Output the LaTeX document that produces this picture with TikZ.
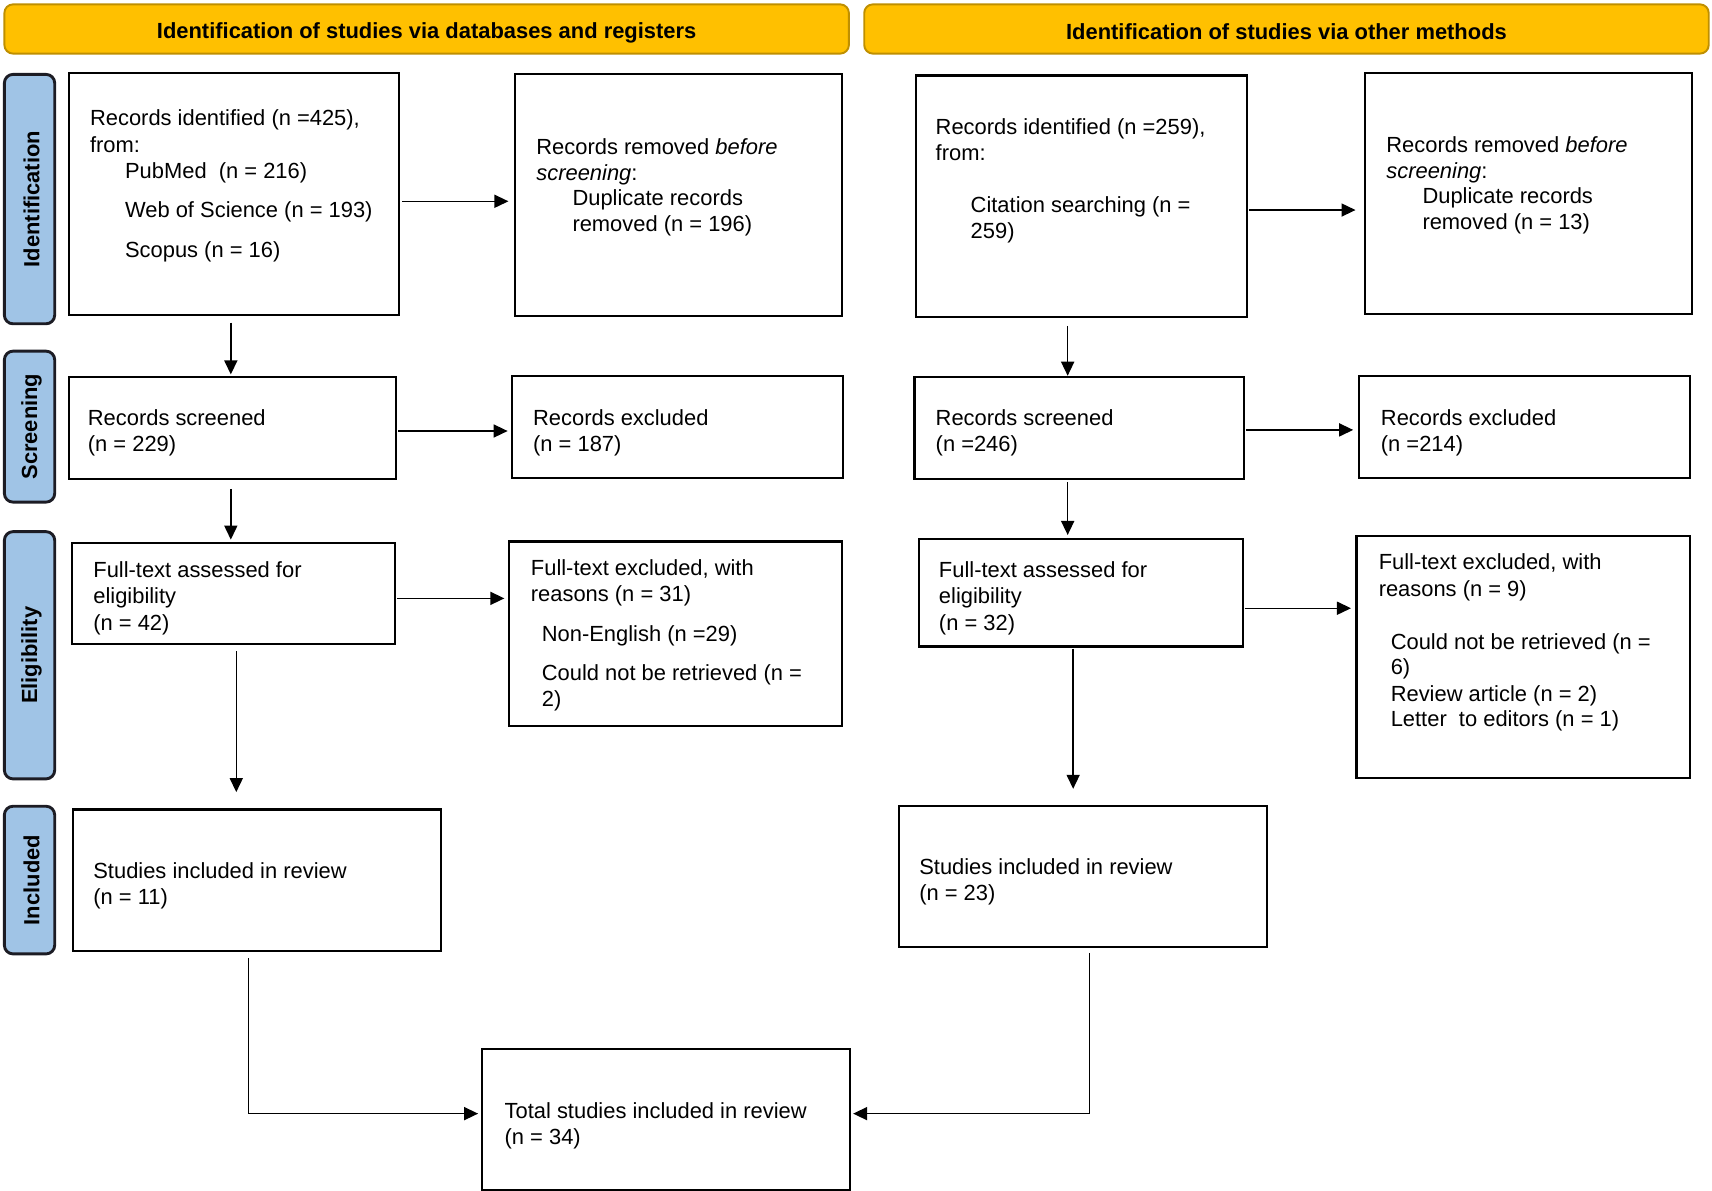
\documentclass[tikz,border=0pt]{standalone}
\usepackage{fontspec}
\setmainfont{Liberation Sans}
\usetikzlibrary{arrows.meta,fit}
\definecolor{hdrfill}{HTML}{FFC000}
\definecolor{hdrline}{HTML}{BF8F00}
\definecolor{sidefill}{HTML}{A0C4E6}
\definecolor{sideline}{HTML}{1C1C24}
\tikzset{
  box/.style={draw=black, line width=1.1pt, inner sep=0pt, fill=white},
  hdr/.style={draw=hdrline, fill=hdrfill, line width=1pt, rounded corners=4.5pt, inner sep=0pt},
  side/.style={draw=sideline, fill=sidefill, line width=1.5pt, rounded corners=4.5pt, inner sep=0pt},
  txt/.style={anchor=base west, inner sep=0pt, font=\fontsize{11.4}{13.6}\selectfont},
  hdrtxt/.style={inner sep=0pt, font=\fontsize{11.4}{13.6}\selectfont\bfseries},
  sidetxt/.style={inner sep=0pt, rotate=90, font=\fontsize{11.4}{13.6}\selectfont\bfseries},
  arr/.style={draw=black, line width=0.75pt, -{Triangle[length=7.3pt,width=6.8pt]}}
}
\begin{document}
\begin{tikzpicture}[x=0.02cm,y=-0.02cm]
\useasboundingbox (0,0) rectangle (1565,1088);
% headers
\node[hdr, fit={(4,4) (776,49)}] (h1) {};
\node[hdrtxt] (h1t) at ([yshift=-2pt]h1.center) {Identification of studies via databases and registers};
\node[hdr, fit={(790,4) (1562,49)}] (h2) {};
\node[hdrtxt] (h2t) at ([yshift=-1.2pt]h2.center) {Identification of studies via other methods};
% side labels
\node[side, fit={(4,68) (50,296)}] (s1) {};
\node[sidetxt] (s1t) at ([xshift=1pt]s1.center) {Identification};
\node[side, fit={(4,321) (50,459)}] (s2) {};
\node[sidetxt] (s2t) at ([xshift=1pt]s2.center) {Screening};
\node[side, fit={(4,486) (50,712)}] (s3) {};
\node[sidetxt] (s3t) at ([xshift=1pt]s3.center) {Eligibility};
\node[side, fit={(4,737) (50,872)}] (s4) {};
\node[sidetxt] (s4t) at ([xshift=1pt]s4.center) {Included};
% left column boxes
\node[box, fit={(63,67) (365,288)}] (a1) {};
\node[box, fit={(471,68) (770,289)}] (a2) {};
\node[box, fit={(63,345) (362,438)}] (a3) {};
\node[box, fit={(468,344) (771,437)}] (a4) {};
\node[box, fit={(66,496) (361,589)}] (a5) {};
\node[box, fit={(465,495) (770,664)}] (a6) {};
\node[box, fit={(67,740) (403,869)}] (a7) {};
\node[box, fit={(441,959) (777,1088)}] (tot) {};
% right column boxes
\node[box, fit={(837,69) (1140,290)}] (b1) {};
\node[box, fit={(1248,67) (1547,287)}] (b2) {};
\node[box, fit={(836,345) (1137,438)}] (b3) {};
\node[box, fit={(1242,344) (1545,437)}] (b4) {};
\node[box, fit={(840,493) (1136,591)}] (b5) {};
\node[box, fit={(1240,490) (1545,711)}] (b6) {};
\node[box, fit={(822,737) (1158,866)}] (b7) {};
% texts left
\node[txt] (a1l1) at (82,115) {Records identified (n =425),};
\node[txt] (a1l2) at (82,139) {from:};
\node[txt] (a1l3) at (114,163) {PubMed\ \ (n = 216)};
\node[txt] (a1l4) at (114,199) {Web of Science (n = 193)};
\node[txt] (a1l5) at (114,235) {Scopus (n = 16)};
\node[txt] (a2l1) at (490,141) {Records removed \textit{before}};
\node[txt] (a2l2) at (490,165) {\textit{screening}:};
\node[txt] (a2l3) at (523,188) {Duplicate records};
\node[txt] (a2l4) at (523,212) {removed (n = 196)};
\node[txt] (a3l1) at (80,389) {Records screened};
\node[txt] (a3l2) at (80,413) {(n = 229)};
\node[txt] (a4l1) at (487,389) {Records excluded};
\node[txt] (a4l2) at (487,413) {(n = 187)};
\node[txt] (a5l1) at (85,528) {Full-text assessed for};
\node[txt] (a5l2) at (85,552) {eligibility};
\node[txt] (a5l3) at (85,576) {(n = 42)};
\node[txt] (a6l1) at (485,526) {Full-text excluded, with};
\node[txt] (a6l2) at (485,550) {reasons (n = 31)};
\node[txt] (a6l3) at (495,586) {Non-English (n =29)};
\node[txt] (a6l4) at (495,622) {Could not be retrieved (n =};
\node[txt] (a6l5) at (495,646) {2)};
\node[txt] (a7l1) at (85,803) {Studies included in review};
\node[txt] (a7l2) at (85,827) {(n = 11)};
\node[txt] (totl1) at (461,1022) {Total studies included in review};
\node[txt] (totl2) at (461,1046) {(n = 34)};
% texts right
\node[txt] (b1l1) at (855,123) {Records identified (n =259),};
\node[txt] (b1l2) at (855,147) {from:};
\node[txt] (b1l3) at (887,194) {Citation searching (n =};
\node[txt] (b1l4) at (887,218) {259)};
\node[txt] (b2l1) at (1267,139) {Records removed \textit{before}};
\node[txt] (b2l2) at (1267,163) {\textit{screening}:};
\node[txt] (b2l3) at (1300,186) {Duplicate records};
\node[txt] (b2l4) at (1300,210) {removed (n = 13)};
\node[txt] (b3l1) at (855,389) {Records screened};
\node[txt] (b3l2) at (855,413) {(n =246)};
\node[txt] (b4l1) at (1262,389) {Records excluded};
\node[txt] (b4l2) at (1262,413) {(n =214)};
\node[txt] (b5l1) at (858,528) {Full-text assessed for};
\node[txt] (b5l2) at (858,552) {eligibility};
\node[txt] (b5l3) at (858,576) {(n = 32)};
\node[txt] (b6l1) at (1260,521) {Full-text excluded, with};
\node[txt] (b6l2) at (1260,545) {reasons (n = 9)};
\node[txt] (b6l3) at (1271,594) {Could not be retrieved (n =};
\node[txt] (b6l4) at (1271,617) {6)};
\node[txt] (b6l5) at (1271,641) {Review article (n = 2)};
\node[txt] (b6l6) at (1271,664) {Letter\ \ to editors (n = 1)};
\node[txt] (b7l1) at (840,799) {Studies included in review};
\node[txt] (b7l2) at (840,823) {(n = 23)};
% arrows left
\draw[arr, shorten <=1pt, shorten >=3pt] (a1.east |- 0,184) -- (a2.west |- 0,184);
\draw[arr, shorten <=3.4pt, shorten >=1pt] (a1.south -| 211,0) -- (a3.north -| 211,0);
\draw[arr, shorten <=0.5pt, shorten >=1.7pt] (a3.east |- 0,394) -- (a4.west |- 0,394);
\draw[arr, shorten <=4.5pt, shorten >=1pt] (a3.south -| 211,0) -- (a5.north -| 211,0);
\draw[arr, shorten <=0.5pt, shorten >=1.7pt] (a5.east |- 0,547) -- (a6.west |- 0,547);
\draw[arr, shorten <=3pt, shorten >=8.5pt] (a5.south -| 216,0) -- (a7.north -| 216,0);
\draw[arr, shorten <=3.4pt, shorten >=1.7pt] (a7.south -| 227,0) |- (tot.west |- 0,1018);
% arrows right
\draw[arr, shorten <=0.5pt, shorten >=4.5pt] (b1.east |- 0,192) -- (b2.west |- 0,192);
\draw[arr, shorten <=4pt, shorten >=0.3pt] (b1.south -| 976,0) -- (b3.north -| 976,0);
\draw[arr, shorten <=0.5pt, shorten >=2.3pt] (b3.east |- 0,393) -- (b4.west |- 0,393);
\draw[arr, shorten <=1.1pt, shorten >=1.7pt] (b3.south -| 976,0) -- (b5.north -| 976,0);
\draw[arr, shorten <=0.5pt, shorten >=2.3pt] (b5.east |- 0,556) -- (b6.west |- 0,556);
\draw[arr, shorten <=0.5pt, shorten >=8.5pt] (b5.south -| 981,0) -- (b7.north -| 981,0);
\draw[arr, shorten <=2.3pt, shorten >=1.1pt] (b7.south -| 996,0) |- (tot.east |- 0,1018);
\end{tikzpicture}
\end{document}
